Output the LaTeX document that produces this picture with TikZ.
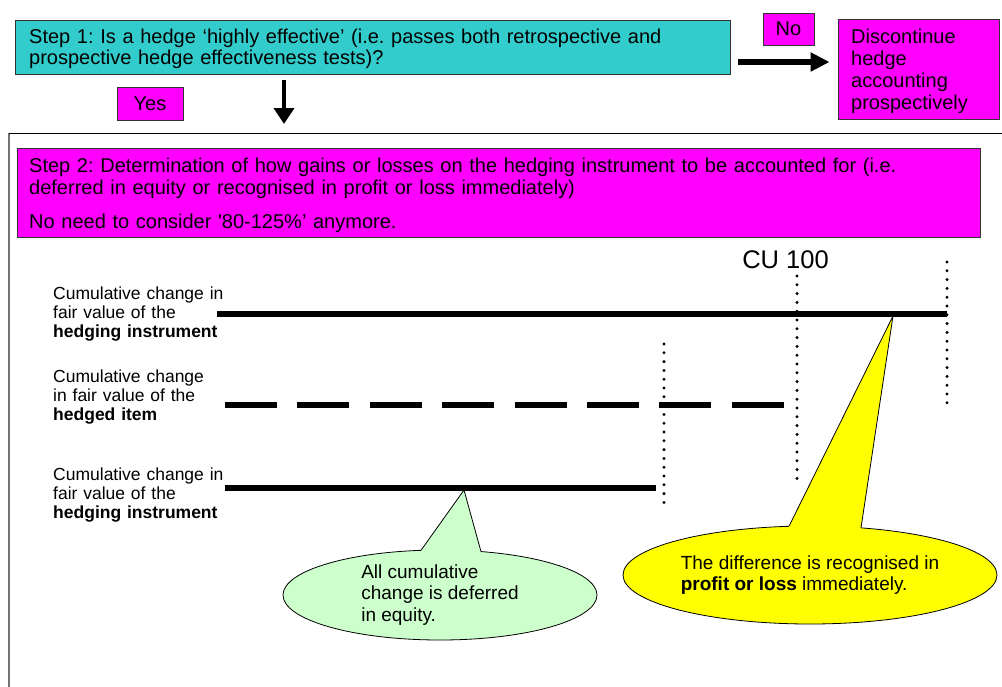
\documentclass[tikz,border=0pt]{standalone}
\usepackage{fontspec}
\setmainfont{Liberation Sans}
\usetikzlibrary{arrows.meta,shapes.geometric}
\definecolor{tealbox}{HTML}{33CCCC}
\definecolor{magbox}{HTML}{FF00FF}
\definecolor{yelbox}{HTML}{FFFF00}
\definecolor{greenbox}{HTML}{CCFFCC}
\frenchspacing
\begin{document}
\begin{tikzpicture}[x=1pt,y=-1pt,
  box/.style={draw=black!80, line width=0.8pt, inner sep=0pt, font=\fontsize{20}{21.3}\selectfont},
  boxtext/.style={anchor=base west, align=left, inner sep=0pt, font=\fontsize{20}{21.3}\selectfont},
  lbl/.style={anchor=base west, align=left, inner sep=0pt, text width=180pt, font=\fontsize{17.5}{19.3}\selectfont},
  barline/.style={line width=6pt},
  dashbar/.style={line width=6pt, dash pattern=on 52pt off 20.4pt},
  dotline/.style={line width=3.3pt, line cap=round, dash pattern=on 0pt off 8.8pt},
  bubble/.style={ellipse, draw=black, line width=0.8pt, align=left, inner sep=0pt, font=\fontsize{19}{21.3}\selectfont},
  pointer/.style={draw=black, line width=0.8pt, line join=miter}
]
\useasboundingbox (0,0) rectangle (1002,686);

% outer frame
\coordinate (frTL) at (9,133);
\coordinate (frTR) at (1005,133);
\coordinate (frBL) at (9,690);
\draw[black!55, line width=1.3pt] (frTL) -- (frBL);
\draw[black, line width=1pt] (frTL) -- (frTR);

% step 1
\node[box, fill=tealbox, minimum width=715pt, minimum height=54pt] (s1) at (372.5,47) {};
\node[boxtext, text width=690pt] (s1t) at (29,43)
  {Step 1: Is a hedge ‘highly effective’ (i.e. passes both retrospective and\\prospective hedge effectiveness tests)?};
\node[box, fill=magbox, minimum width=51pt, minimum height=32pt] (no) at (788.5,29) {No};
\node[box, fill=magbox, minimum width=66pt, minimum height=33pt] (yes) at (150,103.5) {Yes};
\node[box, fill=magbox, minimum width=161pt, minimum height=100pt] (disc) at (918.5,69) {};
\node[boxtext, text width=140pt, font=\fontsize{20}{22.2}\selectfont] (disct) at (851,43)
  {Discontinue\\hedge\\accounting\\prospectively};

% arrows
\coordinate (ra) at (738,62);
\draw[line width=6pt, -{Triangle[length=19pt,width=18pt]}, shorten >=8pt] (ra) -- (ra -| disc.west);
\coordinate (da) at (284,80);
\draw[line width=4pt, -{Triangle[length=16pt,width=20pt]}, shorten >=9pt] (da) -- (da |- frTL);

% step 2
\node[box, fill=magbox, minimum width=963pt, minimum height=89pt] (s2) at (498.5,192.5) {};
\node[boxtext, text width=940pt] (s2t) at (29,172.7)
  {Step 2: Determination of how gains or losses on the hedging instrument to be accounted for (i.e.\\deferred in equity or recognised in profit or loss immediately)\\[12.7pt]No need to consider \textquotesingle 80-125\%’ anymore.};

% labels
\node[lbl] (l1) at (53,299) {Cumulative change in\\fair value of the\\\textbf{hedging instrument}};
\node[lbl] (l2) at (53,382) {Cumulative change\\in fair value of the\\\textbf{hedged item}};
\node[lbl] (l3) at (53,480) {Cumulative change in\\fair value of the\\\textbf{hedging instrument}};

% bars
\coordinate (b1s) at (217,314); \coordinate (b1e) at (947,314);
\coordinate (b2s) at (225,405); \coordinate (b2e) at (784,405);
\coordinate (b3s) at (225,488); \coordinate (b3e) at (656,488);
\draw[barline] (b1s) -- (b1e);
\draw[dashbar] (b2s) -- (b2e);
\draw[barline] (b3s) -- (b3e);

% dotted verticals
\coordinate (d1s) at (664,344); \coordinate (d1e) at (664,505);
\coordinate (d2s) at (797,276); \coordinate (d2e) at (797,481);
\coordinate (d3s) at (947,262); \coordinate (d3e) at (947,405);
\draw[dotline] (d1s) -- (d1e);
\draw[dotline] (d2s) -- (d2e);
\draw[dotline] (d3s) -- (d3e);

\node[inner sep=0pt, font=\fontsize{25.5}{28}\selectfont] (cu) at (785.5,260) {CU 100};

% green callout
\node[bubble, fill=greenbox, minimum width=314pt, minimum height=90pt] (gc) at (440,595)
  {All cumulative\\change is deferred\\in equity.};
\coordinate (gt) at (464,490);
\coordinate (gb1) at (421,550.3);
\coordinate (gb2) at (481,551.6);
\fill[greenbox] (gb1) -- (gt) -- (gb2) -- ([yshift=-4pt]gb2) -- ([yshift=-4pt]gb1) -- cycle;
\draw[pointer] (gb1) -- (gt) -- (gb2);

% yellow callout
\node[bubble, fill=yelbox, minimum width=374pt, minimum height=98pt] (yc) at (810,575)
  {The difference is recognised in\\\textbf{profit or loss} immediately.};
\coordinate (yt) at (893,316);
\coordinate (yb1) at (789,526.3);
\coordinate (yb2) at (861,527.9);
\fill[yelbox] (yb1) -- (yt) -- (yb2) -- ([yshift=-4pt]yb2) -- ([yshift=-4pt]yb1) -- cycle;
\draw[pointer] (yb1) -- (yt) -- (yb2);
\end{tikzpicture}
\end{document}
